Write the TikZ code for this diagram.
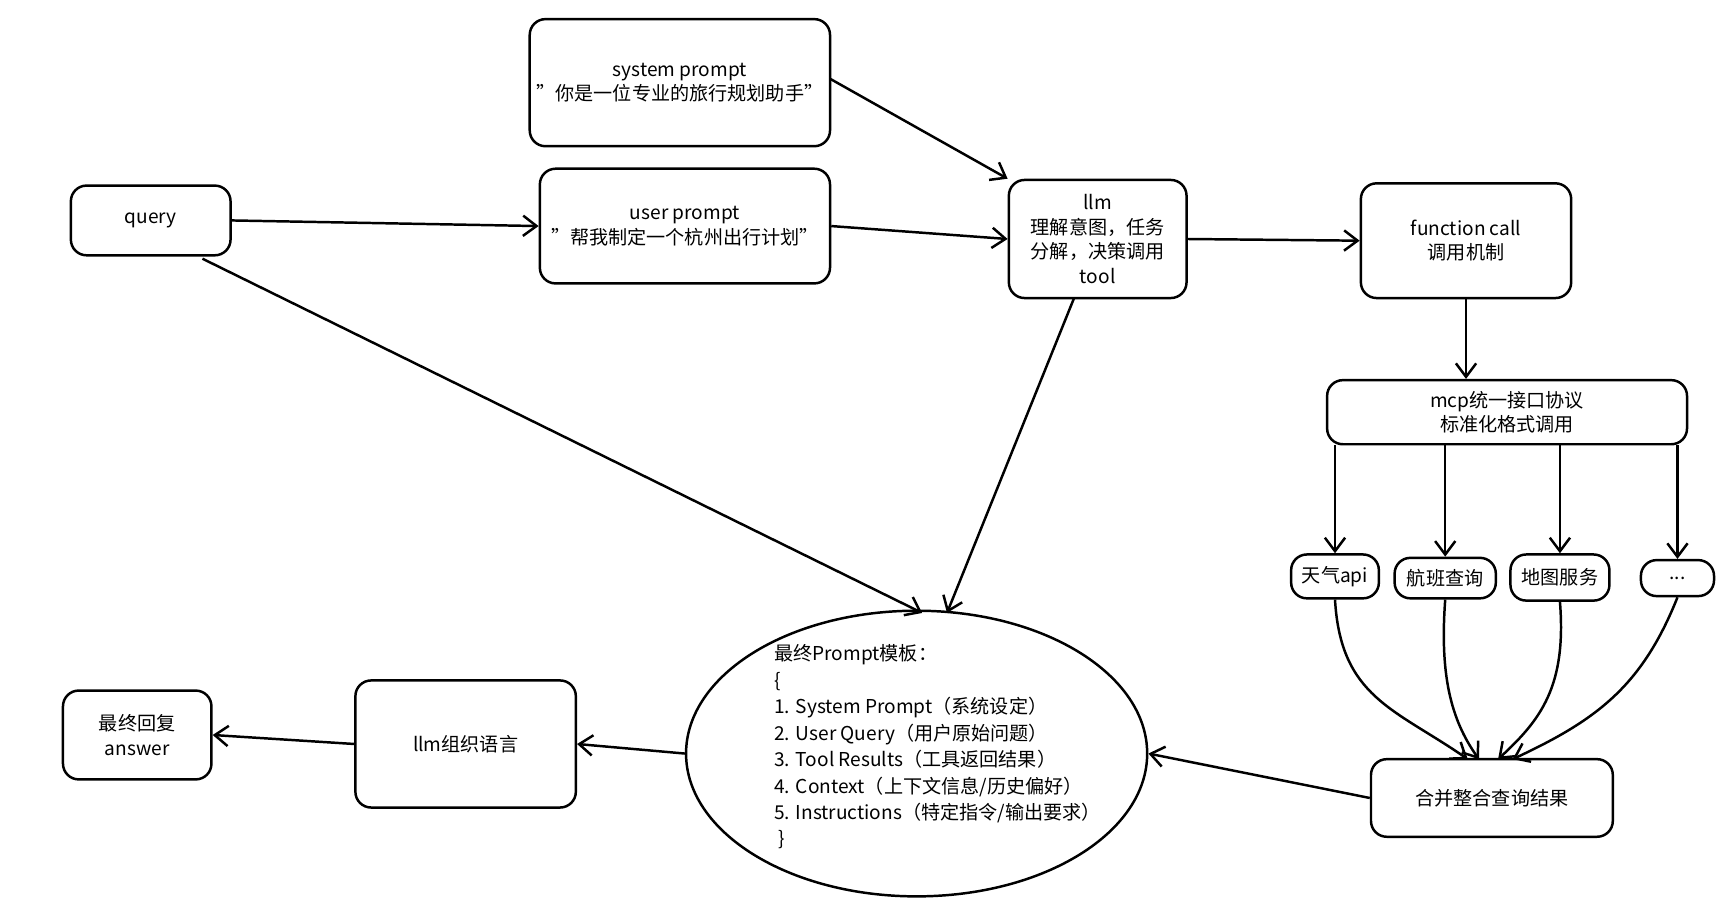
\documentclass[tikz,border=0pt]{standalone}
\usepackage{fontspec}
\setmainfont{Noto Sans CJK SC}
\usetikzlibrary{arrows.meta,shapes.geometric}
\begin{document}
\begin{tikzpicture}[x=0.5pt,y=-0.5pt,
  box/.style={draw,line width=1.1pt,rounded corners=7pt,align=center,font=\fontsize{8.5}{11}\selectfont,inner sep=0pt},
  arr/.style={line width=1.1pt,-{Straight Barb[length=6pt,width=9pt,line width=1.1pt]}},
  ln/.style={line width=1.1pt}]
\useasboundingbox (0,0) rectangle (1540,809);
\fill[white] (0,0) rectangle (1540,809);
\def\bx#1#2#3#4#5#6{\node[box,minimum width={(#4-#2)*0.5pt},minimum height={(#5-#3)*0.5pt}] (#1) at ({(#2+#4)/2},{(#3+#5)/2}) {#6};}
\bx{sys}{471}{17}{738}{130}{system prompt\\"你是一位专业的旅行规划助手"}
\bx{query}{63}{165}{205}{227}{query}
\bx{user}{480}{150}{738}{252}{user prompt\\"帮我制定一个杭州出行计划"}
\bx{llm}{897}{160}{1055}{265}{llm\\理解意图，任务\\分解，决策调用\\tool}
\bx{fc}{1210}{163}{1397}{265}{function call\\调用机制}
\bx{mcp}{1180}{338}{1500}{395}{mcp统一接口协议\\标准化格式调用}
\bx{t1}{1148}{493}{1226}{532}{天气api}
\bx{t2}{1240}{496}{1330}{532}{航班查询}
\bx{t3}{1343}{493}{1431}{534}{地图服务}
\bx{t4}{1459}{498}{1524}{530}{...}
\bx{merge}{1219}{675}{1434}{744}{合并整合查询结果}
\bx{org}{316}{605}{512}{718}{llm组织语言}
\bx{ans}{56}{614}{188}{693}{最终回复\\answer}
\node[draw,ellipse,line width=1.1pt,minimum width=205pt,minimum height=127pt,inner sep=0pt] (tpl) at (815,670) {};
\node[anchor=north west,align=left,font=\fontsize{8.5}{11.75}\selectfont,inner sep=0pt] (tpltext) at (688,573) {最终Prompt模板：\\\{\\1. System Prompt（系统设定）\\2. User Query（用户原始问题）\\3. Tool Results（工具返回结果）\\4. Context（上下文信息/历史偏好）\\5. Instructions（特定指令/输出要求）\\\ \}};
\coordinate (s1) at (738,70);
\draw[arr] (s1) -- (llm.north west);
\draw[arr] (query.east) -- (user.west);
\draw[arr] (user.east) -- (llm.west);
\draw[arr] (llm.east) -- (fc.west);
\draw[arr] (fc.south) -- (mcp.north -| fc.south);
\foreach \t in {t1,t2,t3,t4}{\draw[arr] (mcp.south -| \t.north) -- (\t.north);}
\coordinate (m1) at (1305,675);
\coordinate (m2) at (1315,675);
\coordinate (m3) at (1332,675);
\coordinate (m4) at (1345,675);
\draw[arr] (t1.south) .. controls (1192,620) and (1240,630) .. (m1);
\draw[arr] (t2.south) .. controls (1280,600) and (1290,640) .. (m2);
\draw[arr] (t3.south) .. controls (1393,610) and (1370,640) .. (m3);
\draw[arr] (t4.south) .. controls (1460,610) and (1420,640) .. (m4);
\draw[arr] (merge.west) -- (tpl.east);
\draw[arr] (tpl.west) -- (org.east);
\draw[arr] (org.west) -- (ans.east);
\coordinate (q1) at (820,545);
\coordinate (q2) at (842,545);
\coordinate (q0) at (180,230);
\coordinate (l0) at (955,265);
\draw[arr] (q0) -- (q1);
\draw[arr] (l0) -- (q2);
\end{tikzpicture}
\end{document}
